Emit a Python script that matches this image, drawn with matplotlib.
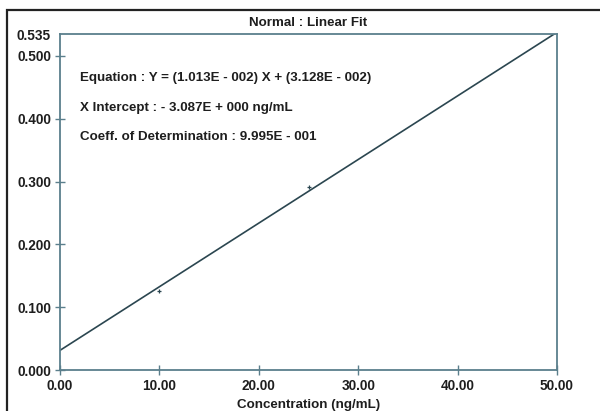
import matplotlib
matplotlib.use("Agg")
import matplotlib.pyplot as plt
from matplotlib.patches import Rectangle

plt.rcParams['font.family'] = ['Liberation Sans', 'DejaVu Sans']
plt.rcParams['font.weight'] = 'bold'

# calibration data (ng/mL vs response)
conc = [10.0, 25.0]
resp = [0.126, 0.292]

# fit results
slope = 1.013e-2
intercept = 3.128e-2
fit_x = [0.0, 50.0]

x_ticks = [0, 10, 20, 30, 40, 50]
y_ticks = [0.0, 0.1, 0.2, 0.3, 0.4, 0.5, 0.535]

info_lines = [
    "Equation : Y = (1.013E - 002) X + (3.128E - 002)",
    "X Intercept : - 3.087E + 000 ng/mL",
    "Coeff. of Determination : 9.995E - 001",
]

axis_col = '#5b7f8c'
line_col = '#2b4650'
text_col = '#1e1e1e'

fig = plt.figure(figsize=(6.0, 4.11), dpi=100)
fig.patch.set_facecolor('white')
# outer frame (only top and left visible in the original crop)
fig.patches.append(Rectangle((7 / 600, -0.05), 1.2, 1 - 10 / 411 + 0.05,
                             transform=fig.transFigure, fill=False,
                             edgecolor='#222222', linewidth=1.6))

ax = fig.add_axes([60 / 600, 1 - 370 / 411, 497 / 600, 336 / 411])
ax.set_xlim(0, 50)
ax.set_ylim(0, 0.535)

fit_y = [slope * v + intercept for v in fit_x]
ax.plot(fit_x, fit_y, color=line_col, linewidth=1.2)
ax.plot(conc, resp, linestyle='none', marker='+', markersize=3.5,
        color=line_col, markeredgewidth=0.9)

for s in ax.spines.values():
    s.set_color(axis_col)
    s.set_linewidth(1.3)

ax.set_xticks(x_ticks)
ax.set_xticklabels(["%.2f" % v for v in x_ticks])
ax.set_yticks(y_ticks)
ax.set_yticklabels(["%.3f" % v for v in y_ticks])
ax.tick_params(direction='inout', length=7, width=1.0, color=axis_col,
               labelsize=9.8, labelcolor=text_col, pad=3)
ax.yaxis.get_major_ticks()[-1].tick1line.set_visible(False)
for lab in ax.get_xticklabels() + ax.get_yticklabels():
    lab.set_fontweight('bold')

ax.set_title("Normal : Linear Fit", fontsize=9.6, fontweight='bold', pad=6,
             color=text_col)
ax.set_xlabel("Concentration (ng/mL)", fontsize=9.6, fontweight='bold',
              labelpad=4, color=text_col)

for i, txt in enumerate(info_lines):
    fig.text(80 / 600, 1 - (78 + 29.5 * i) / 411, txt, fontsize=9.6,
             fontweight='bold', va='center', ha='left', color=text_col)

fig.savefig("out.png", dpi=100)
